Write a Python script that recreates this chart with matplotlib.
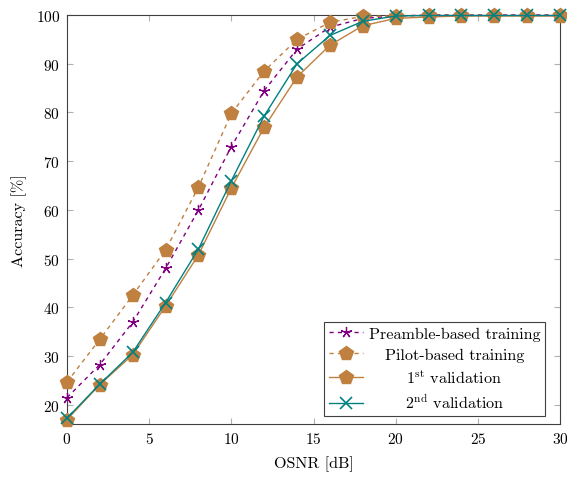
import matplotlib
matplotlib.use("Agg")
import matplotlib.pyplot as plt

plt.rcParams['font.family'] = 'serif'
plt.rcParams['font.serif'] = ['cmr10', 'DejaVu Serif']
plt.rcParams['mathtext.fontset'] = 'cm'
plt.rcParams['axes.formatter.use_mathtext'] = True
plt.rcParams['axes.unicode_minus'] = False

osnr = [0, 2, 4, 6, 8, 10, 12, 14, 16, 18, 20, 22, 24, 26, 28, 30]
preamble = [21.5, 28.3, 37.0, 48.0, 60.0, 73.0, 84.5, 93.0, 97.5, 99.3, 99.8, 100, 100, 100, 100, 100]
pilot = [24.7, 33.5, 42.5, 51.8, 64.7, 79.8, 88.5, 95.0, 98.5, 99.7, 99.8, 99.9, 99.9, 99.9, 99.9, 99.9]
val1 = [17.0, 24.2, 30.3, 40.3, 50.8, 64.5, 77.0, 87.3, 93.8, 97.8, 99.3, 99.6, 99.8, 99.8, 99.8, 99.8]
val2 = [17.3, 24.3, 30.8, 41.0, 52.0, 66.0, 79.3, 90.0, 95.8, 98.7, 99.8, 99.9, 99.9, 99.9, 99.9, 99.9]

purple = '#800080'
brown = '#bf8040'
teal = '#008080'
FS = 11.6

fig = plt.figure(figsize=(5.67, 4.81), dpi=100)
ax = fig.add_axes([67/567, 1-425/481, (560-67)/567, (425-16)/481])

ax.plot(osnr, preamble, color=purple, ls=(0, (3, 3)), lw=1, marker=(5, 2, 0), ms=8,
        mew=0.9, label='Preamble-based training', zorder=3, clip_on=False)
ax.plot(osnr, pilot, color=brown, ls=(0, (3, 3)), lw=1, marker='p', ms=10,
        label='Pilot-based training', zorder=3, clip_on=False)
ax.plot(osnr, val1, color=brown, ls='-', lw=1, marker='p', ms=10,
        label='1$^{\\mathrm{st}}$ validation', zorder=3, clip_on=False)
ax.plot(osnr, val2, color=teal, ls='-', lw=1, marker='x', ms=8, mew=1.2,
        label='2$^{\\mathrm{nd}}$ validation', zorder=4, clip_on=False)

ax.set_xlim(0, 30)
ax.set_ylim(16.1, 100)
ax.set_xticks([0, 5, 10, 15, 20, 25, 30])
ax.set_yticks([20, 30, 40, 50, 60, 70, 80, 90, 100])
ax.tick_params(direction='in', top=True, right=True, length=4, color='#b0b0b0',
               labelsize=11, pad=5)
for s in ax.spines.values():
    s.set_color('#404040')
    s.set_linewidth(0.8)
ax.set_xlabel('OSNR [dB]', fontsize=FS, labelpad=7)
ax.set_ylabel('Accuracy [%]', fontsize=FS, labelpad=6)

leg = ax.legend(loc='lower right', bbox_to_anchor=((545-67)/493, (425-417)/409),
                borderaxespad=0, fontsize=FS, fancybox=False, edgecolor='#404040',
                framealpha=1, handlelength=2.1, labelspacing=0.42,
                borderpad=0.3, handletextpad=0.35)
leg.get_frame().set_linewidth(0.8)

# center the legend labels within their column
fig.canvas.draw()
r = fig.canvas.get_renderer()
texts = leg.get_texts()
widths = [t.get_window_extent(r).width for t in texts]
mw = max(widths)
for t, w in zip(texts, widths):
    t.set_position(((mw - w) / 2, 0))

fig.savefig('out.png', dpi=100)
